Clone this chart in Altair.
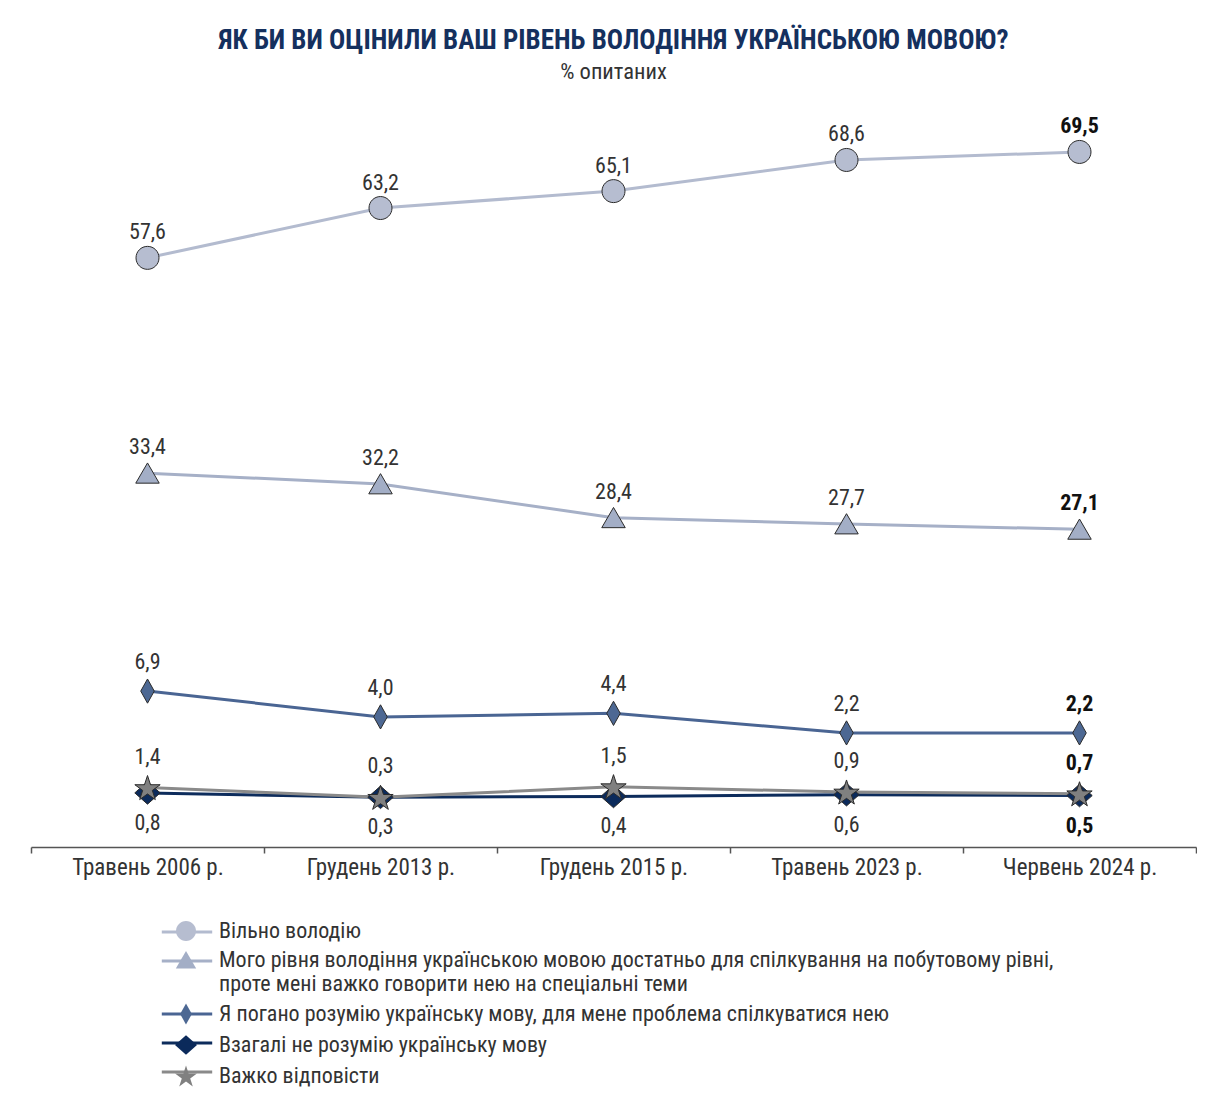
import math
import altair as alt
import pandas as pd

FONT = "'Liberation Sans Narrow', 'Roboto Condensed', Roboto, sans-serif"

periods = ["Травень 2006 р.", "Грудень 2013 р.", "Грудень 2015 р.", "Травень 2023 р.", "Червень 2024 р."]
series_names = [
    "Вільно володію",
    "Мого рівня володіння українською мовою достатньо для спілкування на побутовому рівні,\nпроте мені важко говорити нею на спеціальні теми",
    "Я погано розумію українську мову, для мене проблема спілкуватися нею",
    "Взагалі не розумію українську мову",
    "Важко відповісти",
]
vilno = [57.6, 63.2, 65.1, 68.6, 69.5]
pobut = [33.4, 32.2, 28.4, 27.7, 27.1]
pohano = [6.9, 4.0, 4.4, 2.2, 2.2]
vzahali = [0.8, 0.3, 0.4, 0.6, 0.5]
vazhko = [1.4, 0.3, 1.5, 0.9, 0.7]
all_values = [vilno, pobut, pohano, vzahali, vazhko]

line_colors = ["#b3bbcf", "#a6b0c7", "#4a6593", "#0d2c5c", "#8a8a8a"]
fill_colors = ["#b6bdd0", "#a3aec6", "#4d6893", "#0b2a5b", "#808080"]
label_dy = [-25.5, -26, -29, 30, -31]


def star_path(R, ratio=0.382):
    pts = []
    shift = 0.095 * R
    for k in range(10):
        a = math.radians(-90 + 36 * k)
        r = R if k % 2 == 0 else R * ratio
        pts.append(f"{r*math.cos(a):.3f},{r*math.sin(a)+shift:.3f}")
    return "M" + "L".join(pts) + "Z"


shape_paths = [
    "M0.95,0A0.95,0.95,0,1,1,-0.95,0A0.95,0.95,0,1,1,0.95,0Z",
    "M0,-0.85L0.97,0.82L-0.97,0.82Z",
    "M0,-1L0.56,0L0,1L-0.56,0Z",
    "M0,-0.93L1.05,0L0,0.93L-1.05,0Z",
    star_path(1.1),
]

rows = []
for si, name in enumerate(series_names):
    for pi, p in enumerate(periods):
        rows.append({"series": name, "sidx": si, "period": p, "value": all_values[si][pi],
                     "last": pi == len(periods) - 1})
df = pd.DataFrame(rows)

legend_common = dict(
    title=None, orient="none", legendX=120, legendY=820, direction="vertical",
    symbolSize=441, symbolOffset=24, labelFontSize=22, labelFont=FONT, labelLimit=1200,
    rowPadding=6, labelOffset=22, padding=0,
)
# visible labels (markers legend) and blank placeholders of equal height (line-stub legend)
label_expr_text = "split(datum.label, '\\n')"
label_expr_blank = "indexof(datum.label, '\\n') >= 0 ? [' ', ' '] : ' '"

x_enc = alt.X(
    "period:N", sort=periods,
    scale=alt.Scale(domain=periods, type="band", paddingInner=0, paddingOuter=0),
    axis=alt.Axis(title=None, tickBand="extent", domainColor="#555555", domainWidth=1.5,
                  tickColor="#555555", tickWidth=1.5, tickSize=6, labelFontSize=23,
                  labelColor="#333333", labelPadding=3, labelFont=FONT, grid=False, labelAngle=0),
)
y_enc = alt.Y(
    "value:Q",
    scale=alt.Scale(domain=[0, 1.6, 2, 8, 25, 75], range=[700, 685.8, 634.7, 581.3, 448, 3],
                    zero=False, nice=False),
    axis=None,
)

base = alt.Chart(df)

lines = base.mark_line(strokeWidth=3).encode(
    x=x_enc, y=y_enc,
    color=alt.Color("series:N", sort=series_names, scale=alt.Scale(range=line_colors),
                    legend=alt.Legend(symbolType="M-2.4,0H2.4", symbolStrokeWidth=3,
                                      labelExpr=label_expr_blank, **legend_common)),
    detail="series:N",
)

marker_legend = dict(symbolStrokeColor="#2b2b2b", symbolStrokeWidth=1, labelColor="#333333",
                     labelExpr=label_expr_text, **legend_common)

points = base.mark_point(filled=True, stroke="#2b2b2b", strokeWidth=1, size=586, opacity=1).encode(
    x=x_enc, y=y_enc,
    fill=alt.Fill("series:N", scale=alt.Scale(domain=series_names, range=fill_colors),
                  legend=alt.Legend(**marker_legend)),
    shape=alt.Shape("series:N", scale=alt.Scale(domain=series_names, range=shape_paths),
                    legend=alt.Legend(**marker_legend)),
    order=alt.Order("sidx:Q"),
)

text_layers = []
for si in range(len(series_names)):
    for is_last in (False, True):
        t = base.transform_filter(
            (alt.datum.sidx == si) & (alt.datum["last"] == is_last)
        ).transform_calculate(
            label="replace(format(datum.value, '.1f'), '.', ',')"
        ).mark_text(
            dy=label_dy[si], fontSize=22, font=FONT,
            fontWeight="bold" if is_last else "normal",
            color="#111111" if is_last else "#333333", baseline="middle",
        ).encode(x=x_enc, y=y_enc, text="label:N")
        text_layers.append(t)

chart = alt.layer(lines, points, *text_layers).properties(
    width=1165, height=747,
    padding={"left": 22, "top": 18, "right": 0, "bottom": 0},
    title=alt.TitleParams(
        text="ЯК БИ ВИ ОЦІНИЛИ ВАШ РІВЕНЬ ВОЛОДІННЯ УКРАЇНСЬКОЮ МОВОЮ?",
        subtitle="% опитаних", anchor="middle", font=FONT, fontSize=27, fontWeight="bold",
        color="#15305e", subtitleFont=FONT, subtitleFontSize=22.5, subtitleColor="#333333",
        subtitlePadding=6, offset=16,
    ),
).configure_view(stroke=None)

chart.save("out.html", embed_options={"renderer": "svg", "actions": False})
